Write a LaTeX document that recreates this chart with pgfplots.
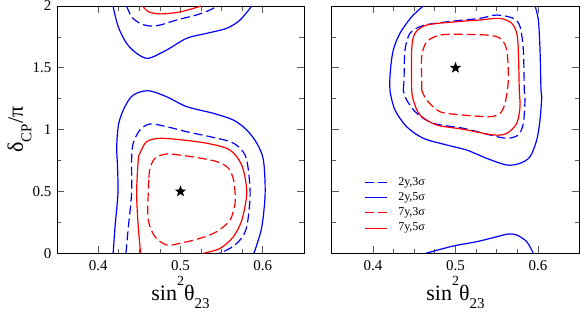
\documentclass[border=0pt]{standalone}
\usepackage{fontspec}
\setmainfont{Liberation Serif}
\usepackage{pgfplots}
\pgfplotsset{compat=1.18}

\pgfdeclareplotmark{fstar}{%
  \pgfpathmoveto{\pgfqpointpolar{90}{\pgfplotmarksize}}%
  \pgfpathlineto{\pgfqpointpolar{126}{0.42\pgfplotmarksize}}%
  \pgfpathlineto{\pgfqpointpolar{162}{\pgfplotmarksize}}%
  \pgfpathlineto{\pgfqpointpolar{198}{0.42\pgfplotmarksize}}%
  \pgfpathlineto{\pgfqpointpolar{234}{\pgfplotmarksize}}%
  \pgfpathlineto{\pgfqpointpolar{270}{0.42\pgfplotmarksize}}%
  \pgfpathlineto{\pgfqpointpolar{306}{\pgfplotmarksize}}%
  \pgfpathlineto{\pgfqpointpolar{342}{0.42\pgfplotmarksize}}%
  \pgfpathlineto{\pgfqpointpolar{18}{\pgfplotmarksize}}%
  \pgfpathlineto{\pgfqpointpolar{54}{0.42\pgfplotmarksize}}%
  \pgfpathclose
  \pgfusepathqfill
}

\tikzset{
  bs/.style={blue, line width=1.2pt, solid},
  bd/.style={blue, line width=1.2pt, dash pattern=on 9pt off 4pt},
  rs/.style={red, line width=1.2pt, solid},
  rd/.style={red, line width=1.2pt, dash pattern=on 9pt off 4pt},
  legtext/.style={anchor=west, inner sep=0pt, font=\fontsize{12}{12}\selectfont},
}

\pgfplotsset{
  panel/.style={
    scale only axis, width=247pt, height=247.3pt,
    anchor=south west,
    xmin=0.35, xmax=0.65, ymin=0, ymax=2,
    xtick={0.4,0.5,0.6}, ytick={0,0.5,1,1.5,2},
    minor x tick num=3, minor y tick num=1,
    major tick length=7pt, minor tick length=4.5pt,
    tick style={black!65, line width=0.8pt},
    axis line style={line width=0.9pt},
    tick label style={font=\fontsize{15}{15}\selectfont},
    xticklabel style={yshift=-3.5pt},
    yticklabel style={xshift=-2pt},
    /pgf/number format/assume math mode=true,
    xlabel={\fontsize{22}{22}\selectfont sin\raisebox{15pt}{\fontsize{14}{14}\selectfont 2}θ\raisebox{-8pt}{\fontsize{15}{15}\selectfont 23}},
    xlabel style={at={(axis description cs:0.5,-0.19)}, anchor=base},
  },
  st/.style={only marks, mark=fstar, mark size=6pt, black},
}

\begin{document}
\begin{tikzpicture}
\useasboundingbox (0,0) rectangle (581pt,311pt);
% ---------------- left panel ----------------
\begin{axis}[panel, at={(57pt,57.7pt)},
  ylabel={\fontsize{22}{22}\selectfont δ\raisebox{-8.5pt}{\fontsize{15}{15}\selectfont CP}/π},
  ylabel style={at={(axis description cs:-0.1377,0.5)}, anchor=base, rotate=0},
]
% top region
\addplot[bs, smooth] coordinates {(0.418,2.0) (0.4243,1.833) (0.4345,1.698) (0.4467,1.617) (0.4608,1.577) (0.4832,1.644) (0.5075,1.739) (0.5319,1.779) (0.5562,1.820) (0.5724,1.887) (0.5866,2.0)};
\addplot[bd, smooth] coordinates {(0.4345,2.0) (0.4406,1.913) (0.4507,1.860) (0.4629,1.838) (0.4751,1.846) (0.4954,1.887) (0.5197,1.928) (0.5359,1.968) (0.544,2.0)};
\addplot[rs, smooth] coordinates {(0.454,2.0) (0.4608,1.955) (0.4751,1.936) (0.4994,1.952) (0.525,2.0)};
% lower region
\addplot[bs, smooth] coordinates {(0.4182,0) (0.4205,0.215) (0.4240,0.485) (0.4235,0.706) (0.4225,0.862) (0.4250,1.051) (0.4325,1.186) (0.4426,1.280) (0.4608,1.315) (0.4832,1.266) (0.5075,1.186) (0.5399,1.132) (0.5642,1.078) (0.5805,0.997) (0.5927,0.890) (0.6007,0.755) (0.6028,0.485) (0.5988,0.215) (0.5906,0.027) (0.5886,0)};
\addplot[bd, smooth] coordinates {(0.4337,0) (0.4367,0.215) (0.4406,0.485) (0.4406,0.755) (0.4426,0.890) (0.4507,0.997) (0.4629,1.046) (0.4832,1.024) (0.5075,0.983) (0.5359,0.943) (0.5602,0.903) (0.5724,0.849) (0.5805,0.755) (0.5846,0.485) (0.5805,0.215) (0.5724,0.108) (0.5602,0.040) (0.5468,0)};
\addplot[rs, smooth] coordinates {(0.4516,0) (0.4487,0.215) (0.4467,0.485) (0.4487,0.755) (0.4507,0.809) (0.4589,0.903) (0.4751,0.930) (0.5034,0.916) (0.5319,0.890) (0.5562,0.849) (0.5684,0.781) (0.5764,0.674) (0.5805,0.485) (0.5745,0.269) (0.5642,0.134) (0.5481,0.040) (0.5277,0)};
\addplot[rd, smooth] coordinates {(0.4617,0.609) (0.4629,0.687) (0.469,0.768) (0.4832,0.803) (0.5075,0.787) (0.5319,0.760) (0.548,0.733) (0.559,0.682) (0.5645,0.593) (0.5663,0.485) (0.5663,0.404) (0.5602,0.269) (0.544,0.175) (0.5237,0.121) (0.4994,0.081) (0.4832,0.067) (0.469,0.134) (0.4608,0.269) (0.4608,0.485) (0.4617,0.609)};
\addplot[st] coordinates {(0.5,0.5)};
\end{axis}
% ---------------- right panel ----------------
\begin{axis}[panel, at={(331.7pt,57.7pt)}, width=247.6pt, yticklabels={}]
\addplot[bd, smooth] coordinates {(0.4367,1.320) (0.4376,1.401) (0.4388,1.644) (0.4448,1.779) (0.457,1.833) (0.4691,1.854) (0.5015,1.881) (0.5297,1.900) (0.5499,1.927) (0.5701,1.900) (0.5782,1.833) (0.5822,1.644) (0.5834,1.320) (0.5842,1.239) (0.5822,1.051) (0.5761,0.957) (0.5621,0.930) (0.5418,0.957) (0.5095,1.011) (0.4731,1.051) (0.453,1.132) (0.4408,1.240) (0.4367,1.320)};
\addplot[bs, smooth] coordinates {(0.461,2.0) (0.4469,1.913) (0.4327,1.779) (0.4246,1.644) (0.4212,1.482) (0.4206,1.320) (0.4267,1.159) (0.4408,1.024) (0.461,0.930) (0.4893,0.876) (0.5136,0.835) (0.5378,0.768) (0.5621,0.714) (0.5782,0.728) (0.5903,0.781) (0.5984,0.916) (0.6024,1.078) (0.6045,1.266) (0.6036,1.320) (0.6024,1.644) (0.6004,1.887) (0.5964,2.0)};
\addplot[rd, smooth] coordinates {(0.459,1.320) (0.459,1.401) (0.459,1.590) (0.4651,1.711) (0.4812,1.765) (0.5055,1.771) (0.5378,1.765) (0.5539,1.739) (0.5621,1.644) (0.564,1.401) (0.56,1.213) (0.5539,1.132) (0.5418,1.105) (0.5095,1.118) (0.4812,1.145) (0.4651,1.240) (0.459,1.320)};
\addplot[rs, smooth] coordinates {(0.4469,1.320) (0.4469,1.644) (0.4509,1.779) (0.4651,1.846) (0.5015,1.873) (0.5297,1.887) (0.5539,1.900) (0.5681,1.860) (0.5742,1.779) (0.5761,1.644) (0.5773,1.320) (0.5782,1.186) (0.5742,1.051) (0.5621,0.970) (0.5458,0.957) (0.5095,1.003) (0.4772,1.038) (0.457,1.118) (0.4488,1.240) (0.4469,1.320)};
\addplot[bs, smooth] coordinates {(0.464,0) (0.4973,0.059) (0.5257,0.094) (0.5499,0.134) (0.564,0.156) (0.5742,0.148) (0.5863,0.094) (0.5943,0)};
\addplot[st] coordinates {(0.5,1.5)};
% legend
\draw[bd] (axis description cs:0.1345,0.2856) -- (axis description cs:0.2233,0.2856);
\draw[bs] (axis description cs:0.1345,0.2249) -- (axis description cs:0.2233,0.2249);
\draw[rd] (axis description cs:0.1345,0.1643) -- (axis description cs:0.2233,0.1643);
\draw[rs] (axis description cs:0.1345,0.1011) -- (axis description cs:0.2233,0.1011);
\node[legtext] at (axis description cs:0.268,0.2856) {2y,3σ};
\node[legtext] at (axis description cs:0.268,0.2249) {2y,5σ};
\node[legtext] at (axis description cs:0.268,0.1643) {7y,3σ};
\node[legtext] at (axis description cs:0.268,0.1011) {7y,5σ};
\end{axis}
\end{tikzpicture}
\end{document}
